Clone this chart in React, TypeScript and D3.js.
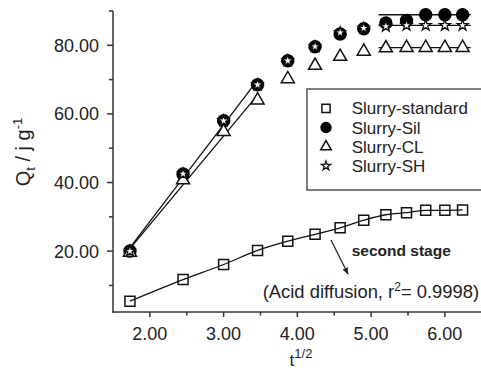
import React from 'react';
import * as d3 from 'd3';

// t^1/2 values and the four series (Q_t, j/g)
const tHalf = [1.73, 2.45, 3.0, 3.46, 3.87, 4.24, 4.58, 4.9, 5.2, 5.48, 5.74, 6.0, 6.24];
const standard = [5.4, 11.7, 16.1, 20.2, 22.9, 24.9, 26.8, 29.0, 30.6, 31.2, 31.9, 31.9, 32.0];
const sil = [20.0, 42.5, 58.0, 68.5, 75.5, 79.6, 83.3, 84.8, 86.5, 87.2, 88.9, 88.9, 88.9];
const cl = [19.6, 40.7, 54.8, 64.0, 70.2, 74.1, 76.7, 78.2, 79.2, 79.3, 79.3, 79.3, 79.3];
const sh = [20.0, 42.5, 58.0, 68.5, 75.5, 79.6, 83.7, 85.0, 85.5, 85.8, 85.8, 85.8, 85.8];

const xMajor = [2, 3, 4, 5, 6];
const xMinor = [2.5, 3.5, 4.5, 5.5];
const yMajor = [20, 40, 60, 80];
const yMinor = [10, 30, 50, 70, 90];

const legendNames = ['Slurry-standard', 'Slurry-Sil', 'Slurry-CL', 'Slurry-SH'];

const W = 481;
const H = 372;
const FONT = '"Liberation Sans", Arial, Helvetica, sans-serif';

const x = d3.scaleLinear().domain([1.5, 6.5]).range([113, 481.75]);
const y = d3.scaleLinear().domain([2.25, 90]).range([312, 11]);

function fit(xs: number[], ys: number[]) {
  const mx = d3.mean(xs)!;
  const my = d3.mean(ys)!;
  const sxy = d3.sum(xs, (v, i) => (v - mx) * (ys[i] - my));
  const sxx = d3.sum(xs, (v) => (v - mx) ** 2);
  const b = sxy / sxx;
  return (v: number) => my + b * (v - mx);
}

const sym = {
  square: d3.symbol().type(d3.symbolSquare),
  circle: d3.symbol().type(d3.symbolCircle),
  triangle: d3.symbol().type(d3.symbolTriangle),
  star: d3.symbol().type(d3.symbolStar),
};

function Marker({ kind, cx, cy, s = 1 }: { kind: string; cx: number; cy: number; s?: number }) {
  const sw = 1.5;
  if (kind === 'square')
    return <path d={sym.square.size(100 * s * s)()!} transform={`translate(${cx},${cy})`} fill="none" stroke="#111" strokeWidth={sw} />;
  if (kind === 'circle')
    return <path d={sym.circle.size(113 * s * s)()!} transform={`translate(${cx},${cy})`} fill="#000" stroke="#000" strokeWidth={sw} />;
  if (kind === 'triangle')
    return <path d={sym.triangle.size(73 * s * s)()!} transform={`translate(${cx},${cy})`} fill="#fff" stroke="#111" strokeWidth={sw} />;
  return <path d={sym.star.size(38 * s * s)()!} transform={`translate(${cx},${cy})`} fill="#fff" stroke="#111" strokeWidth={1.3} />;
}

export default function App() {
  const line = d3.line<[number, number]>().x((d) => x(d[0])).y((d) => y(d[1]));

  const stdPts = tHalf.map((t, i) => [t, standard[i]] as [number, number]);

  const first = [0, 1, 2, 3];
  const firstFits = [sil, cl].map((s) => {
    const f = fit(first.map((i) => tHalf[i]), first.map((i) => s[i]));
    return [
      [tHalf[0], f(tHalf[0])],
      [tHalf[3], f(tHalf[3])],
    ] as [number, number][];
  });

  const tail = [10, 11, 12];
  const secondFits = [sil, cl, sh].map((s) => {
    const lvl = d3.mean(tail.map((i) => s[i]))!;
    return [
      [5.1, lvl],
      [6.35, lvl],
    ] as [number, number][];
  });

  const legendKinds = ['square', 'circle', 'triangle', 'star'];

  return (
    <svg width={W} height={H} style={{ position: 'absolute', left: 0, top: 0, background: '#fff' }} fontFamily={FONT}>
      <defs>
        <marker id="arr" viewBox="0 0 10 10" refX="9" refY="5" markerWidth="6" markerHeight="6" orient="auto">
          <path d="M0,1 L10,5 L0,9 z" fill="#222" />
        </marker>
      </defs>

      {/* axes */}
      <g stroke="#333" strokeWidth={1.5}>
        <line x1={113} y1={y(90)} x2={113} y2={312.7} />
        <line x1={112.3} y1={312} x2={W} y2={312} />
        {yMajor.map((v) => (
          <line key={'ym' + v} x1={107} x2={113} y1={y(v)} y2={y(v)} />
        ))}
        {yMinor.map((v) => (
          <line key={'yn' + v} x1={109} x2={113} y1={y(v)} y2={y(v)} />
        ))}
        {xMajor.map((v) => (
          <line key={'xm' + v} x1={x(v)} x2={x(v)} y1={312} y2={317} />
        ))}
        {xMinor.map((v) => (
          <line key={'xn' + v} x1={x(v)} x2={x(v)} y1={312} y2={315.5} />
        ))}
      </g>
      <g fontSize={18} fill="#222">
        {yMajor.map((v) => (
          <text key={'yl' + v} x={99} y={y(v)} dy="0.36em" textAnchor="end">
            {v.toFixed(2)}
          </text>
        ))}
        {xMajor.map((v) => (
          <text key={'xl' + v} x={x(v)} y={339.5} textAnchor="middle">
            {v.toFixed(2)}
          </text>
        ))}
      </g>

      {/* axis titles */}
      <text transform="translate(30,152) rotate(-90)" textAnchor="middle" fontSize={20} fill="#222">
        Q<tspan fontSize={13} dy={5}>t</tspan>
        <tspan dy={-5}> / j g</tspan>
        <tspan fontSize={13} dy={-8}>-1</tspan>
      </text>
      <text x={301} y={366} textAnchor="middle" fontSize={17} fill="#222">
        t<tspan fontSize={13} dy={-8}>1/2</tspan>
      </text>

      {/* fitted lines */}
      <g fill="none" stroke="#111" strokeWidth={1.3}>
        <path d={d3.line<[number, number]>().x((d) => x(d[0])).y((d) => y(d[1])).curve(d3.curveMonotoneX)(stdPts)!} />
        {firstFits.map((p, i) => (
          <path key={'f' + i} d={line(p)!} />
        ))}
        {secondFits.map((p, i) => (
          <path key={'s' + i} d={line(p)!} />
        ))}
      </g>

      {/* markers */}
      {tHalf.map((t, i) => (
        <Marker key={'sq' + i} kind="square" cx={x(t)} cy={y(standard[i])} />
      ))}
      {tHalf.map((t, i) => (
        <Marker key={'ci' + i} kind="circle" cx={x(t)} cy={y(sil[i])} />
      ))}
      {tHalf.map((t, i) => (
        <Marker key={'tr' + i} kind="triangle" cx={x(t)} cy={y(cl[i])} />
      ))}
      {tHalf.map((t, i) => (
        <Marker key={'st' + i} kind="star" cx={x(t)} cy={y(sh[i])} />
      ))}

      {/* legend */}
      <rect x={307} y={89} width={180} height={101} fill="#fff" stroke="#555" strokeWidth={1.5} />
      {legendNames.map((n, i) => (
        <g key={n}>
          <Marker kind={legendKinds[i]} cx={326} cy={108.3 + i * 19.2} s={0.82} />
          <text x={351.7} y={108.3 + i * 19.2} dy="0.36em" fontSize={17} fill="#222">
            {n}
          </text>
        </g>
      ))}

      {/* annotation */}
      <line x1={331} y1={240} x2={348} y2={274} stroke="#222" strokeWidth={1.2} markerEnd="url(#arr)" />
      <text x={351.7} y={255.7} fontSize={15.5} fontWeight="bold" fill="#222">
        second stage
      </text>
      <text x={262.7} y={298} fontSize={18.4} fill="#222">
        (Acid diffusion, r<tspan fontSize={12} dy={-7}>2</tspan>
        <tspan dy={7}>= 0.9998)</tspan>
      </text>
    </svg>
  );
}
